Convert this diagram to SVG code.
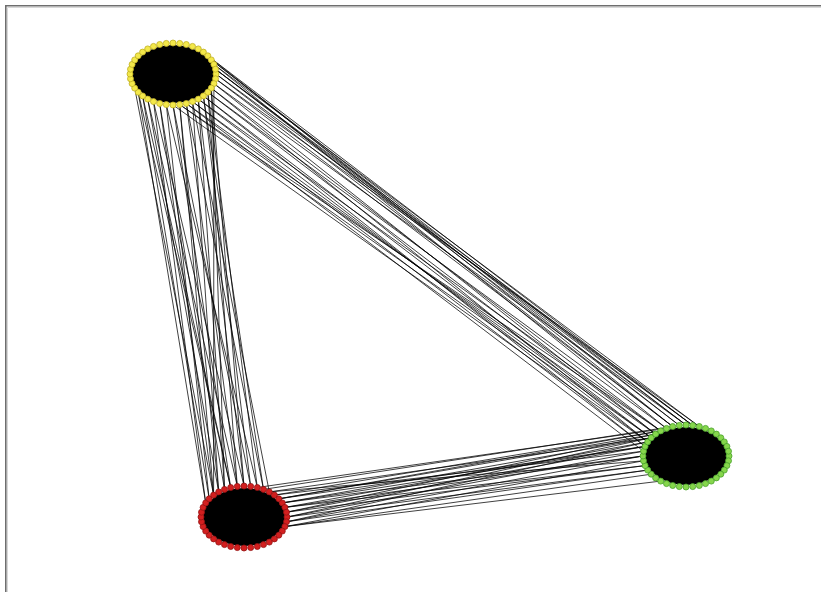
<svg xmlns="http://www.w3.org/2000/svg" xmlns:xlink="http://www.w3.org/1999/xlink" width="821" height="592" viewBox="0 0 821 592">
<style>
.frame{stroke:#6e6e6e;stroke-width:1.6;fill:none}
.frame2{stroke:#d8d8d8;stroke-width:1;fill:none}
#connectors line{stroke:#000;stroke-width:0.75}
.core{fill:#000}
.yel{fill:#f3e84a;stroke:#bfae22;stroke-width:0.8}
.grn{fill:#86d64c;stroke:#47a12a;stroke-width:0.8}
.red{fill:#d21f1f;stroke:#951212;stroke-width:0.8}
</style>
<defs>
<g id="ring">
<circle cx="43" cy="0" r="3"/><circle cx="42.5" cy="4.8" r="3"/><circle cx="40.9" cy="9.6" r="3"/><circle cx="38.3" cy="14.1" r="3"/><circle cx="34.8" cy="18.2" r="3"/><circle cx="30.4" cy="21.9" r="3"/><circle cx="25.3" cy="25.1" r="3"/><circle cx="19.5" cy="27.6" r="3"/><circle cx="13.3" cy="29.5" r="3"/><circle cx="6.7" cy="30.6" r="3"/>
<circle cx="0" cy="31" r="3"/><circle cx="-6.7" cy="30.6" r="3"/><circle cx="-13.3" cy="29.5" r="3"/><circle cx="-19.5" cy="27.6" r="3"/><circle cx="-25.3" cy="25.1" r="3"/><circle cx="-30.4" cy="21.9" r="3"/><circle cx="-34.8" cy="18.2" r="3"/><circle cx="-38.3" cy="14.1" r="3"/><circle cx="-40.9" cy="9.6" r="3"/><circle cx="-42.5" cy="4.8" r="3"/>
<circle cx="-43" cy="0" r="3"/><circle cx="-42.5" cy="-4.8" r="3"/><circle cx="-40.9" cy="-9.6" r="3"/><circle cx="-38.3" cy="-14.1" r="3"/><circle cx="-34.8" cy="-18.2" r="3"/><circle cx="-30.4" cy="-21.9" r="3"/><circle cx="-25.3" cy="-25.1" r="3"/><circle cx="-19.5" cy="-27.6" r="3"/><circle cx="-13.3" cy="-29.5" r="3"/><circle cx="-6.7" cy="-30.6" r="3"/>
<circle cx="0" cy="-31" r="3"/><circle cx="6.7" cy="-30.6" r="3"/><circle cx="13.3" cy="-29.5" r="3"/><circle cx="19.5" cy="-27.6" r="3"/><circle cx="25.3" cy="-25.1" r="3"/><circle cx="30.4" cy="-21.9" r="3"/><circle cx="34.8" cy="-18.2" r="3"/><circle cx="38.3" cy="-14.1" r="3"/><circle cx="40.9" cy="-9.6" r="3"/><circle cx="42.5" cy="-4.8" r="3"/>
</g>
</defs>
<rect width="821" height="592" fill="#fff"/>
<path class="frame" d="M5.8,592 V5.8 H821"/>
<path class="frame2" d="M7.5,592 V7.5 H821"/>
<g id="connectors">
<line x1="138.2" y1="92.2" x2="205.7" y2="502.9"/><line x1="142.6" y1="95.9" x2="209.2" y2="498.8"/><line x1="134.7" y1="88.1" x2="213.6" y2="495.1"/><line x1="147.7" y1="99.1" x2="218.7" y2="491.9"/><line x1="153.5" y1="101.6" x2="205.7" y2="502.9"/><line x1="159.7" y1="103.5" x2="224.5" y2="489.4"/><line x1="166.3" y1="104.6" x2="209.2" y2="498.8"/><line x1="173" y1="105" x2="230.7" y2="487.5"/><line x1="179.7" y1="104.6" x2="213.6" y2="495.1"/><line x1="186.3" y1="103.5" x2="237.3" y2="486.4"/><line x1="192.5" y1="101.6" x2="218.7" y2="491.9"/><line x1="198.3" y1="99.1" x2="244" y2="486"/><line x1="203.4" y1="95.9" x2="250.7" y2="486.4"/><line x1="207.8" y1="92.2" x2="257.3" y2="487.5"/><line x1="211.3" y1="88.1" x2="224.5" y2="489.4"/><line x1="142.6" y1="95.9" x2="230.7" y2="487.5"/><line x1="153.5" y1="101.6" x2="244" y2="486"/><line x1="159.7" y1="103.5" x2="213.6" y2="495.1"/><line x1="173" y1="105" x2="250.7" y2="486.4"/><line x1="186.3" y1="103.5" x2="263.5" y2="489.4"/><line x1="198.3" y1="99.1" x2="224.5" y2="489.4"/><line x1="207.8" y1="92.2" x2="237.3" y2="486.4"/><line x1="203.4" y1="95.9" x2="263.5" y2="489.4"/><line x1="147.7" y1="99.1" x2="237.3" y2="486.4"/><line x1="166.3" y1="104.6" x2="257.3" y2="487.5"/><line x1="179.7" y1="104.6" x2="218.7" y2="491.9"/><line x1="192.5" y1="101.6" x2="269.3" y2="491.9"/><line x1="138.2" y1="92.2" x2="230.7" y2="487.5"/><line x1="211.3" y1="88.1" x2="244" y2="486"/><line x1="213.9" y1="83.6" x2="213.6" y2="495.1"/>
<line x1="207.8" y1="55.8" x2="692.7" y2="425.4"/><line x1="211.3" y1="59.9" x2="686" y2="425"/><line x1="213.9" y1="64.4" x2="699.3" y2="426.5"/><line x1="215.5" y1="69.2" x2="679.3" y2="425.4"/><line x1="216" y1="74" x2="692.7" y2="425.4"/><line x1="215.5" y1="78.8" x2="672.7" y2="426.5"/><line x1="211.3" y1="59.9" x2="679.3" y2="425.4"/><line x1="213.9" y1="64.4" x2="666.5" y2="428.4"/><line x1="215.5" y1="69.2" x2="686" y2="425"/><line x1="216" y1="74" x2="672.7" y2="426.5"/><line x1="213.9" y1="83.6" x2="686" y2="425"/><line x1="207.8" y1="55.8" x2="672.7" y2="426.5"/><line x1="215.5" y1="78.8" x2="699.3" y2="426.5"/><line x1="215.5" y1="69.2" x2="692.7" y2="425.4"/>
<line x1="211.3" y1="88.1" x2="660.7" y2="430.9"/><line x1="207.8" y1="92.2" x2="655.6" y2="434.1"/><line x1="203.4" y1="95.9" x2="651.2" y2="437.8"/><line x1="198.3" y1="99.1" x2="647.7" y2="441.9"/><line x1="192.5" y1="101.6" x2="645.1" y2="446.4"/><line x1="186.3" y1="103.5" x2="655.6" y2="434.1"/><line x1="179.7" y1="104.6" x2="651.2" y2="437.8"/><line x1="207.8" y1="92.2" x2="666.5" y2="428.4"/><line x1="203.4" y1="95.9" x2="645.1" y2="446.4"/><line x1="198.3" y1="99.1" x2="660.7" y2="430.9"/><line x1="192.5" y1="101.6" x2="651.2" y2="437.8"/><line x1="211.3" y1="88.1" x2="647.7" y2="441.9"/><line x1="186.3" y1="103.5" x2="643.5" y2="451.2"/><line x1="179.7" y1="104.6" x2="660.7" y2="430.9"/><line x1="213.9" y1="83.6" x2="655.6" y2="434.1"/><line x1="173" y1="105" x2="647.7" y2="441.9"/>
<line x1="274.4" y1="495.1" x2="660.7" y2="430.9"/><line x1="278.8" y1="498.8" x2="655.6" y2="434.1"/><line x1="282.3" y1="502.9" x2="651.2" y2="437.8"/><line x1="284.9" y1="507.4" x2="647.7" y2="441.9"/><line x1="286.5" y1="512.2" x2="645.1" y2="446.4"/><line x1="287" y1="517" x2="643.5" y2="451.2"/><line x1="286.5" y1="521.8" x2="643" y2="456"/><line x1="284.9" y1="526.6" x2="643.5" y2="460.8"/><line x1="269.3" y1="491.9" x2="651.2" y2="437.8"/><line x1="278.8" y1="498.8" x2="645.1" y2="446.4"/><line x1="282.3" y1="502.9" x2="643" y2="456"/><line x1="284.9" y1="507.4" x2="645.1" y2="465.6"/><line x1="286.5" y1="512.2" x2="655.6" y2="434.1"/><line x1="287" y1="517" x2="647.7" y2="470.1"/><line x1="286.5" y1="521.8" x2="647.7" y2="441.9"/><line x1="274.4" y1="495.1" x2="643.5" y2="451.2"/><line x1="269.3" y1="491.9" x2="643.5" y2="460.8"/><line x1="284.9" y1="526.6" x2="651.2" y2="474.2"/><line x1="278.8" y1="498.8" x2="660.7" y2="430.9"/><line x1="284.9" y1="507.4" x2="643" y2="456"/><line x1="287" y1="517" x2="651.2" y2="437.8"/><line x1="286.5" y1="512.2" x2="645.1" y2="465.6"/><line x1="282.3" y1="502.9" x2="645.1" y2="446.4"/><line x1="286.5" y1="521.8" x2="647.7" y2="470.1"/><line x1="284.9" y1="526.6" x2="660.7" y2="481.1"/><line x1="257.3" y1="487.5" x2="666.5" y2="428.4"/><line x1="263.5" y1="489.4" x2="672.7" y2="426.5"/>
</g>
<g id="cluster-yellow">
<ellipse class="core" cx="173" cy="74" rx="41" ry="29"/>
<use xlink:href="#ring" href="#ring" x="173" y="74" class="yel"/>
</g>
<g id="cluster-green">
<ellipse class="core" cx="686" cy="456" rx="41" ry="29"/>
<use xlink:href="#ring" href="#ring" x="686" y="456" class="grn"/>
</g>
<g id="cluster-red">
<ellipse class="core" cx="244" cy="517" rx="41" ry="29"/>
<use xlink:href="#ring" href="#ring" x="244" y="517" class="red"/>
</g>
</svg>
